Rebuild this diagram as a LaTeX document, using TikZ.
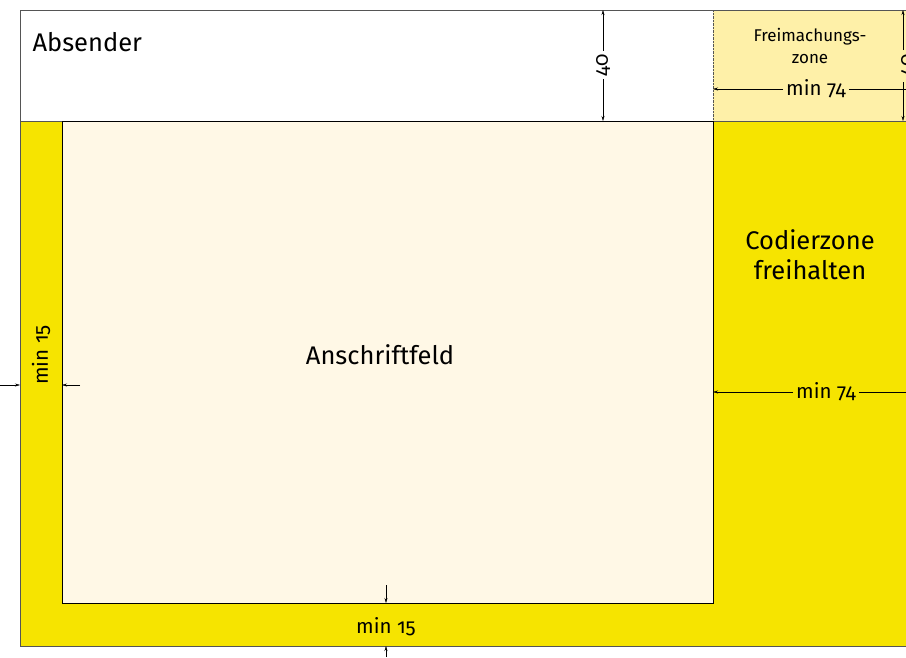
\documentclass[tikz,border=0pt]{standalone}
\usepackage{fontspec}
\setmainfont{Fira Sans}[Numbers=OldStyle]
\usetikzlibrary{arrows.meta}
\definecolor{postgelb}{RGB}{246,228,0}
\definecolor{freigelb}{RGB}{254,240,168}
\definecolor{creme}{RGB}{255,248,230}
\definecolor{rand}{RGB}{85,85,85}
\begin{document}
\begin{tikzpicture}
[x=1pt,y=1pt,
zone text/.style={font=\fontsize{25.5}{30}\selectfont,align=center},
dim text/.style={inner sep=3pt,font=\fontsize{20.5}{24}\selectfont},
dim/.style={thin,-{Stealth[length=5pt,width=3pt]}}]
\useasboundingbox (0,0) rectangle (906,-657);
% Umschlag
\fill[postgelb] (20,-121) rectangle (910,-646);
\fill[freigelb] (713,-10) rectangle (910,-121);
\draw[rand,thick] (910,-10) -- (20,-10) -- (20,-646) -- (910,-646);
\draw[rand] (20,-121) -- (910,-121);
\draw[rand,densely dotted] (713,-10) -- (713,-121);
\node[draw,fill=creme,minimum width=651pt,minimum height=482pt,
zone text] (anschrift) at (387.5,-362) {};
\node[zone text] (feldname) at (380,-355) {Anschriftfeld};
\node[zone text,anchor=west] (absender) at (29,-42) {Absender};
\node[zone text] (codier) at (810,-255) {Codierzone\\freihalten};
\node[font=\fontsize{17}{22}\selectfont,align=center] (frei) at (810,-46)
{Freimachungs-\\zone};
% Masse oben
\node[dim text,fill=white,rotate=90] (h40) at (603,-65) {40};
\coordinate (h40o) at (603,-10);
\coordinate (h40u) at (603,-121);
\draw[dim] (h40) -- (h40o);
\draw[dim] (h40) -- (h40u);
\node[dim text,fill=freigelb,rotate=90] (r40) at (908,-65) {40};
\coordinate (r40o) at (903,-10);
\coordinate (r40u) at (903,-121);
\draw[dim] (903,-50) -- (r40o);
\draw[dim] (903,-82) -- (r40u);
\node[dim text,fill=freigelb] (b74) at (816,-89) {min 74};
\coordinate (b74l) at (713,-89);
\coordinate (b74r) at (912,-89);
\draw[dim] (b74) -- (b74l);
\draw[dim] (b74) -- (b74r);
% Codierzone
\node[dim text,fill=postgelb] (c74) at (826,-392) {min 74};
\coordinate (c74l) at (713,-392);
\coordinate (c74r) at (912,-392);
\draw[dim] (c74) -- (c74l);
\draw[dim] (c74) -- (c74r);
% Rand links
\node[dim text,rotate=90] (l15) at (41,-355) {min 15};
\coordinate (l15a) at (0,-385);
\coordinate (l15b) at (20,-385);
\coordinate (l15c) at (80,-385);
\coordinate (l15d) at (62,-385);
\draw[dim] (l15a) -- (l15b);
\draw[dim] (l15c) -- (l15d);
% Rand unten
\node[dim text] (u15) at (386,-627) {min 15};
\coordinate (u15a) at (386,-585);
\coordinate (u15b) at (386,-603);
\coordinate (u15c) at (386,-657);
\coordinate (u15d) at (386,-646);
\draw[dim] (u15a) -- (u15b);
\draw[dim] (u15c) -- (u15d);
\end{tikzpicture}
\end{document}
